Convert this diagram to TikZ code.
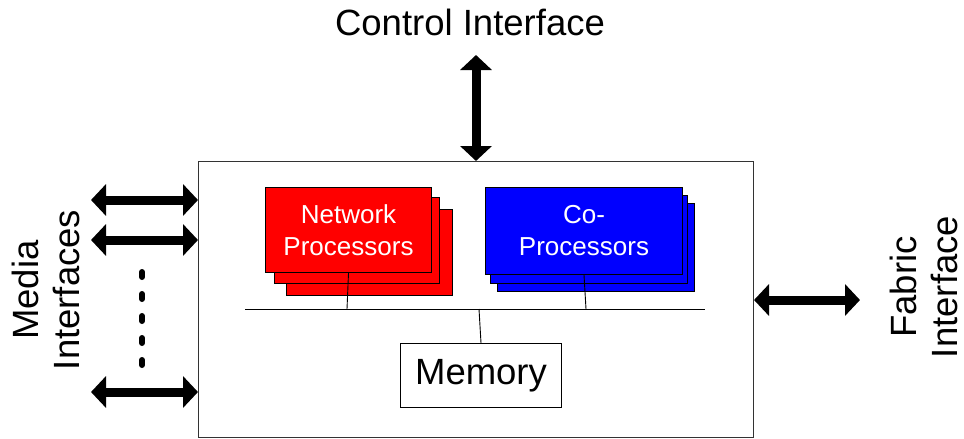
\documentclass[tikz,border=0pt]{standalone}
\usepackage{fontspec}
\setmainfont{Liberation Sans}
\usetikzlibrary{arrows.meta}
\definecolor{npred}{RGB}{255,0,0}
\definecolor{cpblue}{RGB}{0,0,255}
\begin{document}
\begin{tikzpicture}[x=1pt,y=-1pt,
  box/.style={draw=black,line width=1pt,inner sep=0pt,anchor=north west},
  redbox/.style={box,fill=npred},
  bluebox/.style={box,fill=cpblue},
  thin line/.style={draw=black,line width=0.9pt},
  fat arrow/.style={line width=9pt,{Triangle[width=31pt,length=15pt]}-{Triangle[width=31pt,length=15pt]}},
  big text/.style={font=\fontsize{36.5}{41}\selectfont,inner sep=0pt},
  mid text/.style={font=\fontsize{26}{32}\selectfont,inner sep=0pt,text=white,align=center}
]
\useasboundingbox (0,0) rectangle (964,439);
% main box
\node[box,draw=black!80,minimum width=555pt,minimum height=276pt] (main) at (198,161) {};
% red stack
\node[redbox,minimum width=166pt,minimum height=86pt] (red3) at (286,209) {};
\node[redbox,minimum width=165pt,minimum height=86pt] (red2) at (274,197) {};
\node[redbox,minimum width=166pt,minimum height=85pt] (red1) at (265,187) {};
\node[mid text] (redtxt) at (red1.center) {Network\\Processors};
% blue stack
\node[bluebox,minimum width=197pt,minimum height=88pt] (blue3) at (497,203) {};
\node[bluebox,minimum width=197pt,minimum height=88pt] (blue2) at (490,195) {};
\node[bluebox,minimum width=197pt,minimum height=87pt] (blue1) at (485,187) {};
\node[mid text] (bluetxt) at (blue1.center) {Co-\\Processors};
% memory
\node[box,minimum width=161pt,minimum height=64pt] (mem) at (400,343) {};
\node[big text] (memtxt) at (mem.center) {Memory};
% bus
\coordinate (busL) at (245,309);
\coordinate (busR) at (705,309);
\coordinate (busRed) at (347,309);
\coordinate (busBlue) at (586,309);
\coordinate (busMem) at (479,309);
\draw[thin line] (busL) -- (busR);
\draw[thin line] (red1.south) -- (busRed);
\draw[thin line] (blue1.south) -- (busBlue);
\draw[thin line] (busMem) -- (mem.north);
% control interface
\node[big text] (ctrl) at (470,22) {Control Interface};
\coordinate (ctrlEnd) at (476,55);
\draw[fat arrow] (ctrlEnd) -- (main.north);
% media interfaces
\node[big text,rotate=90,align=center] (media) at (46,290) {Media\\Interfaces};
\coordinate (m1) at (91,200);
\coordinate (m2) at (91,240);
\coordinate (m3) at (91,392);
\draw[fat arrow] (m1) -- (m1 -| main.west);
\draw[fat arrow] (m2) -- (m2 -| main.west);
\draw[fat arrow] (m3) -- (m3 -| main.west);
\coordinate (dotTop) at (142,272);
\coordinate (dotBot) at (142,366);
\draw[line width=6pt,line cap=round,dash pattern=on 5pt off 17pt] (dotTop) -- (dotBot);
% fabric interface
\node[big text,rotate=90,align=center] (fabric) at (924,287) {Fabric\\Interface};
\coordinate (fEnd) at (860,300);
\draw[fat arrow] (main.east |- fEnd) -- (fEnd);
\end{tikzpicture}
\end{document}
